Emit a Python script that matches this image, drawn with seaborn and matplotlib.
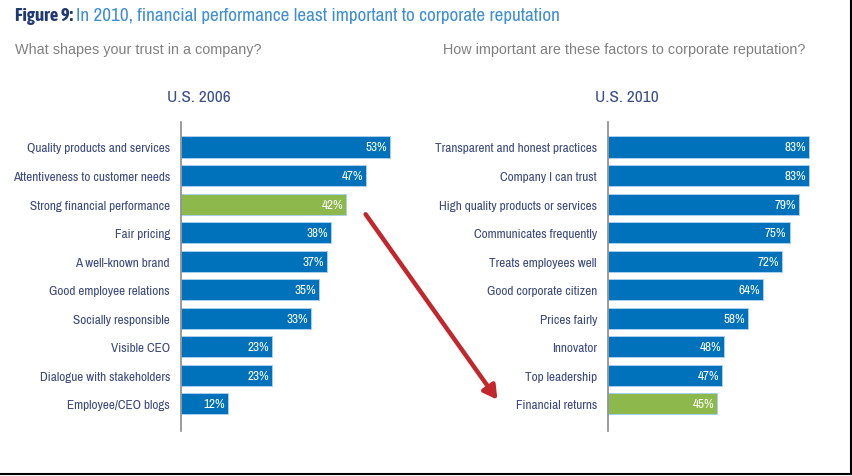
import matplotlib
matplotlib.use("Agg")
import matplotlib.pyplot as plt
import seaborn as sns
import pandas as pd

sns.set_theme(style="white")
plt.rcParams['font.family'] = ['Archivo Narrow', 'DejaVu Sans']

# ---- data ----
cats_2006 = ["Quality products and services", "Attentiveness to customer needs",
             "Strong financial performance", "Fair pricing", "A well-known brand",
             "Good employee relations", "Socially responsible", "Visible CEO",
             "Dialogue with stakeholders", "Employee/CEO blogs"]
vals_2006 = [53, 47, 42, 38, 37, 35, 33, 23, 23, 12]
cats_2010 = ["Transparent and honest practices", "Company I can trust",
             "High quality products or services", "Communicates frequently",
             "Treats employees well", "Good corporate citizen", "Prices fairly",
             "Innovator", "Top leadership", "Financial returns"]
vals_2010 = [83, 83, 79, 75, 72, 64, 58, 48, 47, 45]
highlight_2006 = "Strong financial performance"
highlight_2010 = "Financial returns"

BLUE = "#0072BC"
GREEN = "#8CB84C"
LABEL = "#3C4A7E"

W, H = 853, 477
fig = plt.figure(figsize=(W / 100, H / 100), dpi=100)

def fx(px):
    return px / W

def fy(py):
    return 1 - py / H

def panel(ax, cats, vals, hl, xmax):
    df = pd.DataFrame({"cat": cats, "val": vals})
    pal = {c: (GREEN if c == hl else BLUE) for c in cats}
    sns.barplot(data=df, y="cat", x="val", hue="cat", palette=pal, legend=False,
                order=cats, width=0.74, ax=ax, edgecolor="#A8D0EE", linewidth=0.7,
                saturation=1)
    ax.set_xlim(0, xmax)
    ax.set_ylim(len(cats) - 0.05, -0.875)
    ax.set_xlabel("")
    ax.set_ylabel("")
    ax.set_xticks([])
    for s in ["top", "right", "bottom"]:
        ax.spines[s].set_visible(False)
    ax.spines["left"].set_color("#8A8A8A")
    ax.spines["left"].set_linewidth(1.2)
    ax.tick_params(axis="y", length=0, pad=8, labelsize=9.5, labelcolor=LABEL)
    ax.set_facecolor("none")
    for i, v in enumerate(vals):
        ax.text(v - xmax * 0.012, i, f"{v}%", ha="right", va="center",
                color="white", fontsize=9.5)

axL = fig.add_axes([fx(181), fy(432), fx(60 * 3.94), (432 - 123) / H])
panel(axL, cats_2006, vals_2006, highlight_2006, 60)
axR = fig.add_axes([fx(608), fy(432), fx(100 * 2.42), (432 - 123) / H])
panel(axR, cats_2010, vals_2010, highlight_2010, 100)

# titles
t1 = fig.text(fx(15), fy(16), "Figure 9:", fontsize=13.5, color="#1F3A73",
              fontweight="bold", va="center", ha="left",
              family=["Asap Condensed", "Archivo Narrow", "DejaVu Sans"])
fig.canvas.draw()
bb = t1.get_window_extent()
fig.text(bb.x1 / W + fx(3), fy(16), "In 2010, financial performance least important to corporate reputation",
         fontsize=13.8, color="#3F8FD2", va="center", ha="left")

sub_font = ["Liberation Sans", "DejaVu Sans"]
fig.text(fx(15), fy(50), "What shapes your trust in a company?", fontsize=10.4,
         color="#808080", va="center", ha="left", family=sub_font)
fig.text(fx(443), fy(50), "How important are these factors to corporate reputation?",
         fontsize=10.4, color="#808080", va="center", ha="left", family=sub_font)
fig.text(fx(199), fy(97), "U.S. 2006", fontsize=12.5, color="#3A4F8C",
         va="center", ha="center")
fig.text(fx(627), fy(97), "U.S. 2010", fontsize=12.5, color="#3A4F8C",
         va="center", ha="center")

# red arrow
fig.add_artist(matplotlib.patches.FancyArrowPatch(
    (fx(364), fy(213)), (fx(499), fy(403)), transform=fig.transFigure,
    arrowstyle="-|>,head_length=8,head_width=4.5", color="#C1272D", lw=3.2,
    mutation_scale=1))

# frame lines (bottom and right)
fig.add_artist(matplotlib.lines.Line2D([0, fx(851)], [fy(475), fy(475)],
                                       transform=fig.transFigure, color="black", lw=1.5))
fig.add_artist(matplotlib.lines.Line2D([fx(851), fx(851)], [fy(475), 1],
                                       transform=fig.transFigure, color="black", lw=1.5))

fig.savefig("out.png", dpi=100)
